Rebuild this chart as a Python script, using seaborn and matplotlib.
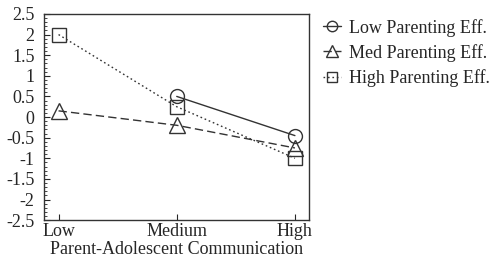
import numpy as np
import pandas as pd
import seaborn as sns
import matplotlib.pyplot as plt
from matplotlib.ticker import MultipleLocator

# Data
communication = ["Low", "Medium", "High"]
low_eff = [np.nan, 0.5, -0.45]
med_eff = [0.15, -0.2, -0.75]
high_eff = [2.0, 0.25, -1.0]

sns.set_style("ticks")
plt.rcParams["font.family"] = ["Liberation Serif", "DejaVu Serif"]

fig, ax = plt.subplots(figsize=(4.93, 2.63), dpi=100)
fig.subplots_adjust(left=0.09, right=0.627, top=0.947, bottom=0.163)

series = [
    ("Low Parenting Eff.", low_eff, "o", "-", 10),
    ("Med Parenting Eff.", med_eff, "^", (0, (6, 3)), 11),
    ("High Parenting Eff.", high_eff, "s", (0, (1.2, 2)), 10),
]
x = np.arange(len(communication))
for name, vals, mk, ls, ms in series:
    sns.lineplot(x=x, y=vals, ax=ax, color="#333333", marker=mk, linestyle=ls,
                 markersize=ms, markerfacecolor="none", markeredgecolor="#333333",
                 markeredgewidth=1.0, linewidth=1.0, label=name)

ax.set_xlim(-0.12, 2.12)
ax.set_ylim(-2.5, 2.5)
ax.set_xticks(x)
ax.set_xticklabels(communication)
ax.yaxis.set_major_locator(MultipleLocator(0.5))
ax.yaxis.set_minor_locator(MultipleLocator(0.1))
ax.set_yticklabels([f"{v:g}" for v in ax.get_yticks()])
ax.tick_params(axis="both", direction="in", labelsize=13, length=4, width=0.8, pad=2)
ax.tick_params(axis="y", which="major", pad=7)
ax.tick_params(axis="y", which="minor", direction="in", length=2, width=0.6)
ax.set_xlabel("Parent-Adolescent Communication", fontsize=13, labelpad=1)
for s in ax.spines.values():
    s.set_linewidth(1.0)
    s.set_color("#333333")
    s.set_visible(True)

ax.legend(loc="upper left", bbox_to_anchor=(1.02, 1.02), frameon=False,
          fontsize=13, handlelength=1.0, handletextpad=0.4, labelspacing=0.4,
          borderaxespad=0.1, markerscale=0.75)

fig.savefig("out.png", dpi=100)
